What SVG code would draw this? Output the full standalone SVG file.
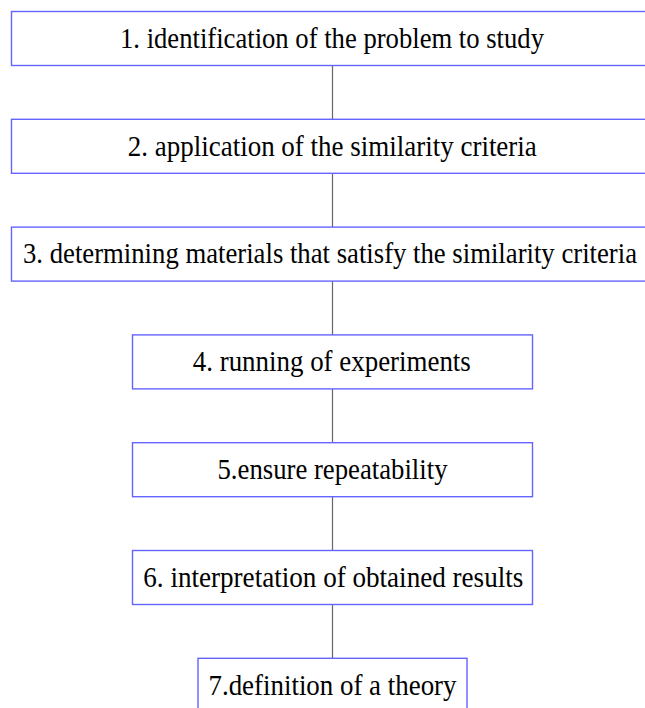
<svg xmlns="http://www.w3.org/2000/svg" width="645" height="708" viewBox="0 0 645 708">
<style>
.box{fill:#ffffff;stroke:#6464ff;stroke-width:1.4}
.lbl{font-family:"Liberation Serif","Times New Roman",serif;font-size:28.5px;fill:#000000;text-anchor:middle}
.conn{stroke:#666666;stroke-width:1.2;fill:none}
</style>
<rect width="645" height="708" fill="#ffffff"/>
<g id="connectors">
<line class="conn" x1="332.5" y1="65.5" x2="332.5" y2="119.3"/>
<line class="conn" x1="332.5" y1="173.3" x2="332.5" y2="227.1"/>
<line class="conn" x1="332.5" y1="281.1" x2="332.5" y2="334.9"/>
<line class="conn" x1="332.5" y1="388.9" x2="332.5" y2="442.7"/>
<line class="conn" x1="332.5" y1="496.7" x2="332.5" y2="550.5"/>
<line class="conn" x1="332.5" y1="604.5" x2="332.5" y2="658.3"/>
</g>
<g id="node1">
<rect class="box" x="11.5" y="11.5" width="643" height="54"/>
<text class="lbl" x="332" y="47.7" textLength="424" lengthAdjust="spacingAndGlyphs">1. identification of the problem to study</text>
</g>
<g id="node2">
<rect class="box" x="11.5" y="119.3" width="643" height="54"/>
<text class="lbl" x="332.3" y="155.5" textLength="409" lengthAdjust="spacingAndGlyphs">2. application of the similarity criteria</text>
</g>
<g id="node3">
<rect class="box" x="11.5" y="227.1" width="643" height="54"/>
<text class="lbl" x="330" y="263.3" textLength="614" lengthAdjust="spacingAndGlyphs">3. determining materials that satisfy the similarity criteria</text>
</g>
<g id="node4">
<rect class="box" x="132.5" y="334.9" width="400" height="54"/>
<text class="lbl" x="331.8" y="371.1" textLength="278" lengthAdjust="spacingAndGlyphs">4. running of experiments</text>
</g>
<g id="node5">
<rect class="box" x="132.5" y="442.7" width="400" height="54"/>
<text class="lbl" x="332.5" y="478.9" textLength="230" lengthAdjust="spacingAndGlyphs">5.ensure repeatability</text>
</g>
<g id="node6">
<rect class="box" x="132.5" y="550.5" width="400" height="54"/>
<text class="lbl" x="333.3" y="586.7" textLength="380" lengthAdjust="spacingAndGlyphs">6. interpretation of obtained results</text>
</g>
<g id="node7">
<rect class="box" x="198" y="658.3" width="269" height="54"/>
<text class="lbl" x="332.5" y="694.5" textLength="248" lengthAdjust="spacingAndGlyphs">7.definition of a theory</text>
</g>
</svg>
